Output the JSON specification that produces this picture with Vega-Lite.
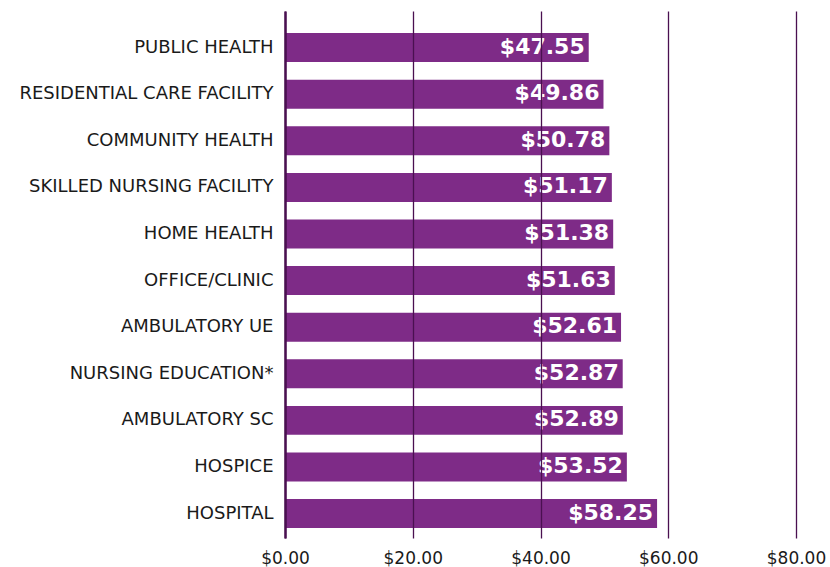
{
  "$schema": "https://vega.github.io/schema/vega-lite/v6.json",
  "width": 511,
  "height": 527,
  "autosize": {"type": "none"},
  "padding": {"left": 285, "top": 11, "right": 34, "bottom": 29},
  "background": "white",
  "config": {"view": {"stroke": null}},
  "data": {"values": [
    {"setting": "PUBLIC HEALTH", "wage": 47.55},
    {"setting": "RESIDENTIAL CARE FACILITY", "wage": 49.86},
    {"setting": "COMMUNITY HEALTH", "wage": 50.78},
    {"setting": "SKILLED NURSING FACILITY", "wage": 51.17},
    {"setting": "HOME HEALTH", "wage": 51.38},
    {"setting": "OFFICE/CLINIC", "wage": 51.63},
    {"setting": "AMBULATORY UE", "wage": 52.61},
    {"setting": "NURSING EDUCATION*", "wage": 52.87},
    {"setting": "AMBULATORY SC", "wage": 52.89},
    {"setting": "HOSPICE", "wage": 53.52},
    {"setting": "HOSPITAL", "wage": 58.25}
  ]},
  "encoding": {
    "y": {
      "field": "setting", "type": "nominal", "sort": null, "title": null,
      "scale": {"paddingInner": 0.378, "paddingOuter": 0.344, "align": 0.69},
      "axis": {"ticks": false, "domain": true, "domainColor": "#4a1050", "domainWidth": 2.5,
               "labelFont": "DejaVu Sans", "labelFontSize": 18, "labelColor": "#1a1a1a", "labelPadding": 12, "labelLimit": 300, "zindex": 1}
    },
    "x": {
      "field": "wage", "type": "quantitative", "title": null,
      "scale": {"domain": [0, 80], "nice": false},
      "axis": {"values": [0, 20, 40, 60, 80], "format": "$.2f", "domain": false, "ticks": false, "labelFlush": false,
               "grid": true, "gridColor": "#4a1050", "gridWidth": 1.3, "gridOpacity": 1,
               "labelFont": "DejaVu Sans", "labelFontSize": 17, "labelColor": "#1a1a1a", "labelPadding": 12, "zindex": 1}
    }
  },
  "layer": [
    {"mark": {"type": "bar", "color": "#7e2b87"}},
    {"mark": {"type": "text", "align": "right", "dx": -4, "color": "white", "font": "DejaVu Sans", "fontWeight": "bold", "fontSize": 22, "baseline": "middle", "dy": -1},
     "encoding": {"text": {"field": "wage", "type": "quantitative", "format": "$.2f"}}}
  ]
}
